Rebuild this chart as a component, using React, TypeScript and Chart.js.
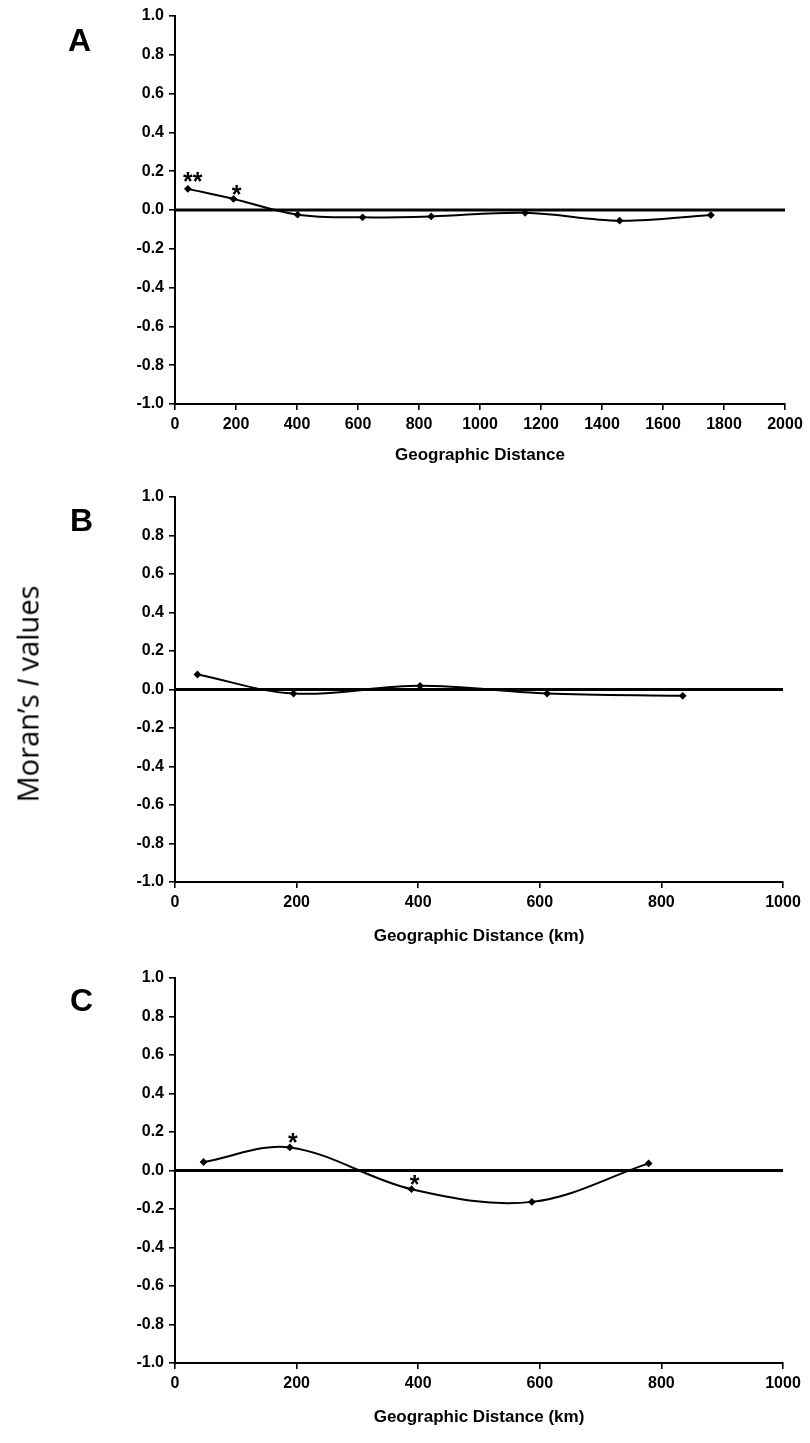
import React, { useEffect, useRef } from "react";
import { Chart, registerables } from "chart.js";

Chart.register(...registerables);

// Panel A
const distA = [42, 192, 402, 615, 840, 1148, 1458, 1757];
const moranA = [0.109, 0.057, -0.024, -0.038, -0.033, -0.014, -0.055, -0.026];
const sigA = ["**", "*", "", "", "", "", "", ""];
const ticksA = [0, 200, 400, 600, 800, 1000, 1200, 1400, 1600, 1800, 2000];

// Panel B
const distB = [37, 195, 403, 612, 835];
const moranB = [0.078, -0.021, 0.019, -0.021, -0.033];
const sigB = ["", "", "", "", ""];
const ticksB = [0, 200, 400, 600, 800, 1000];

// Panel C
const distC = [47, 189, 389, 587, 779];
const moranC = [0.044, 0.12, -0.097, -0.163, 0.037];
const sigC = ["", "*", "*", "", ""];
const ticksC = [0, 200, 400, 600, 800, 1000];

const yTicks = [-1.0, -0.8, -0.6, -0.4, -0.2, 0.0, 0.2, 0.4, 0.6, 0.8, 1.0];

const FONT = "'Liberation Sans', Arial, sans-serif";

type PanelProps = {
  top: number;
  height: number;
  areaH: number;
  right: number;
  xs: number[];
  ys: number[];
  sig: string[];
  xTicks: number[];
  xTitle: string;
};

const starPlugin = {
  id: "stars",
  afterDatasetsDraw(chart: any) {
    const sig: string[] = chart.options.plugins.stars?.labels || [];
    const meta = chart.getDatasetMeta(1);
    const ctx = chart.ctx;
    ctx.save();
    ctx.fillStyle = "#000";
    ctx.font = `bold 25px ${FONT}`;
    ctx.textAlign = "center";
    ctx.textBaseline = "alphabetic";
    meta.data.forEach((pt: any, i: number) => {
      const s = sig[i];
      if (!s) return;
      const dy = s.length > 1 ? 1 : 4;
      const dx = s.length > 1 ? 5 : 3;
      ctx.fillText(s, pt.x + dx, pt.y + dy);
    });
    ctx.restore();
  },
};

function Panel(p: PanelProps) {
  const ref = useRef<HTMLCanvasElement | null>(null);
  useEffect(() => {
    if (!ref.current) return;
    const xmax = p.xTicks[p.xTicks.length - 1];
    const chart = new Chart(ref.current, {
      type: "scatter",
      data: {
        datasets: [
          {
            data: [
              { x: 0, y: 0 },
              { x: xmax, y: 0 },
            ],
            showLine: true,
            borderColor: "#000",
            borderWidth: 2.8,
            pointRadius: 0,
            tension: 0,
          },
          {
            data: p.xs.map((x, i) => ({ x, y: p.ys[i] })),
            showLine: true,
            borderColor: "#000",
            backgroundColor: "#000",
            borderWidth: 2,
            pointStyle: "rectRot",
            pointRadius: 2.5,
            tension: 0.35,
          },
        ],
      },
      options: {
        animation: false,
        responsive: false,
        maintainAspectRatio: false,
        layout: { padding: { left: 0, right: 810 - p.right, top: 16, bottom: 0 } },
        plugins: {
          legend: { display: false },
          tooltip: { enabled: false },
          stars: { labels: p.sig },
        } as any,
        scales: {
          x: {
            type: "linear",
            min: 0,
            max: xmax,
            afterBuildTicks: (s: any) => {
              s.ticks = p.xTicks.map((v) => ({ value: v }));
            },
            afterFit: (s: any) => {
              s.height = p.height - 16 - p.areaH;
            },
            ticks: {
              color: "#000",
              font: { family: FONT, size: 16, weight: "bold" },
              padding: 5,
              maxRotation: 0,
              autoSkip: false,
              callback: (v: any) => String(v),
            },
            grid: { drawOnChartArea: false, drawTicks: true, tickLength: 6, color: "#000", lineWidth: 1.6 },
            border: { color: "#000", width: 2 },
            title: {
              display: true,
              text: p.xTitle,
              color: "#000",
              font: { family: FONT, size: 17, weight: "bold" },
              padding: { top: 0, bottom: 15 },
            },
          },
          y: {
            type: "linear",
            min: -1,
            max: 1,
            afterBuildTicks: (s: any) => {
              s.ticks = yTicks.map((v) => ({ value: v }));
            },
            afterFit: (s: any) => {
              s.width = 175;
            },
            ticks: {
              color: "#000",
              font: { family: FONT, size: 16, weight: "bold" },
              padding: 5,
              autoSkip: false,
              callback: (v: any) => (Math.abs(v) < 1e-9 ? "0.0" : Number(v).toFixed(1)),
            },
            grid: { drawOnChartArea: false, drawTicks: true, tickLength: 6, color: "#000", lineWidth: 1.6 },
            border: { color: "#000", width: 2 },
          },
        },
      },
      plugins: [starPlugin],
    });
    return () => chart.destroy();
  }, []);
  return (
    <canvas
      ref={ref}
      width={810}
      height={p.height}
      style={{ position: "absolute", left: 0, top: p.top, width: 810, height: p.height }}
    />
  );
}

const letterStyle: React.CSSProperties = {
  position: "absolute",
  fontFamily: FONT,
  fontWeight: "bold",
  fontSize: 32,
  color: "#000",
  lineHeight: 1,
};

export default function App() {
  return (
    <div style={{ position: "absolute", left: 0, top: 0, width: 810, height: 1443, background: "#fff" }}>
      <Panel top={0} height={481} areaH={388} right={785} xs={distA} ys={moranA} sig={sigA} xTicks={ticksA} xTitle="Geographic Distance" />
      <Panel top={481} height={481} areaH={385} right={783} xs={distB} ys={moranB} sig={sigB} xTicks={ticksB} xTitle="Geographic Distance (km)" />
      <Panel top={962} height={481} areaH={385} right={783} xs={distC} ys={moranC} sig={sigC} xTicks={ticksC} xTitle="Geographic Distance (km)" />
      <div style={{ ...letterStyle, left: 68, top: 24 }}>A</div>
      <div style={{ ...letterStyle, left: 70, top: 504 }}>B</div>
      <div style={{ ...letterStyle, left: 70, top: 984 }}>C</div>
      <div
        style={{
          position: "absolute",
          left: 27,
          top: 694,
          transform: "translate(-50%, -50%) rotate(-90deg)",
          whiteSpace: "nowrap",
          fontFamily: "'Open Sans', 'Noto Sans', sans-serif",
          fontSize: 29,
          color: "#000",
          lineHeight: 1,
        }}
      >
        Moran’s <i>I</i> values
      </div>
    </div>
  );
}
